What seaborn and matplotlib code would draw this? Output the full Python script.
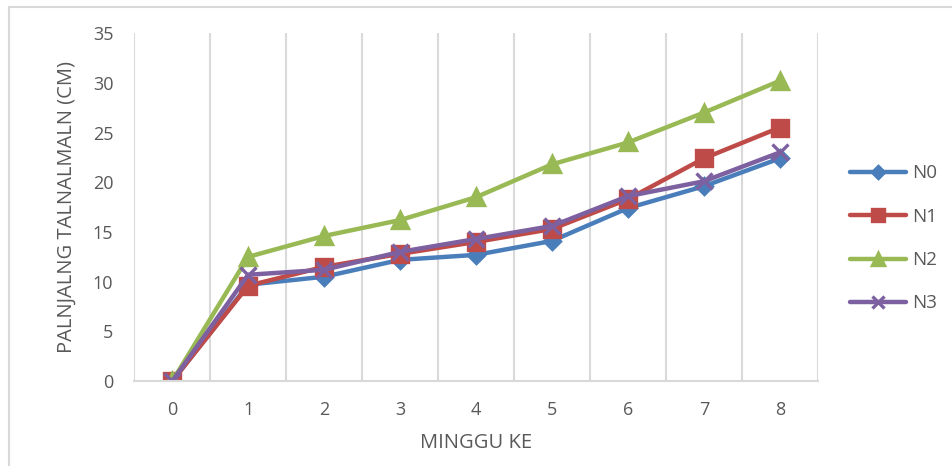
import pandas as pd
import matplotlib.pyplot as plt
import seaborn as sns
from matplotlib.patches import Rectangle

minggu = [0, 1, 2, 3, 4, 5, 6, 7, 8]
n0 = [0, 9.7, 10.5, 12.2, 12.7, 14.1, 17.4, 19.6, 22.4]
n1 = [0, 9.6, 11.5, 12.8, 14.0, 15.3, 18.3, 22.4, 25.5]
n2 = [0, 12.5, 14.6, 16.2, 18.5, 21.8, 24.0, 27.0, 30.2]
n3 = [0, 10.7, 11.2, 13.0, 14.3, 15.6, 18.6, 20.1, 23.0]
seri = ['N0', 'N1', 'N2', 'N3']

df = pd.DataFrame({'minggu': minggu * 4,
                   'panjang': n0 + n1 + n2 + n3,
                   'seri': [s for s in seri for _ in minggu]})

warna = {'N0': '#4a7ebb', 'N1': '#be4b48', 'N2': '#98b954', 'N3': '#7d60a0'}
penanda = {'N0': 'D', 'N1': 's', 'N2': '^', 'N3': 'x'}
ukuran = {'N0': 8, 'N1': 11, 'N2': 11, 'N3': 12}

sns.set_style('white')
plt.rcParams['font.family'] = ['Open Sans', 'DejaVu Sans']
abu = '#595959'

fig = plt.figure(figsize=(9.52, 4.66), dpi=100)
ax = fig.add_axes([0.141, 0.182, 0.718, 0.747])
fig.patches.append(Rectangle((0.009, -0.1), 1.1, 1.085, transform=fig.transFigure,
                             fill=False, edgecolor='#d9d9d9', linewidth=1.5))

# satu seri per panggilan supaya penanda garis (x) bisa dicampur
for s in seri:
    sns.lineplot(data=df[df['seri'] == s], x='minggu', y='panjang', ax=ax,
                 color=warna[s], marker=penanda[s], label=s,
                 linewidth=3.2, markersize=ukuran[s], markeredgewidth=2.4,
                 markeredgecolor=warna[s])

ax.set_xlim(-0.5, 8.5)
ax.set_ylim(0, 35)
ax.set_xticks(minggu)
ax.set_yticks(range(0, 36, 5))
ax.set_xticks([i - 0.5 for i in range(10)], minor=True)
ax.grid(False)
ax.grid(True, which='minor', axis='x', color='#d9d9d9', linewidth=1.5)
ax.tick_params(which='both', length=0, labelsize=13, colors=abu)
ax.tick_params(axis='y', pad=15)
ax.tick_params(axis='x', pad=14)
for sp in ['top', 'right', 'left']:
    ax.spines[sp].set_visible(False)
ax.spines['bottom'].set_color('#d9d9d9')
ax.spines['bottom'].set_linewidth(1.5)

ax.set_xlabel('MINGGU KE', fontsize=14.5, color=abu, labelpad=10)
ax.set_ylabel('PALNJALNG TALNALMALN (CM)', fontsize=14.5, color=abu, labelpad=12)

handles, labels = ax.get_legend_handles_labels()
ax.legend(handles, labels, loc='center left', bbox_to_anchor=(1.047, 0.41),
          frameon=False, fontsize=13.5, labelcolor=abu, handlelength=3.0,
          labelspacing=1.35, handletextpad=0.3, borderpad=0, borderaxespad=0,
          markerscale=0.75)

fig.savefig('out.png', dpi=100)
